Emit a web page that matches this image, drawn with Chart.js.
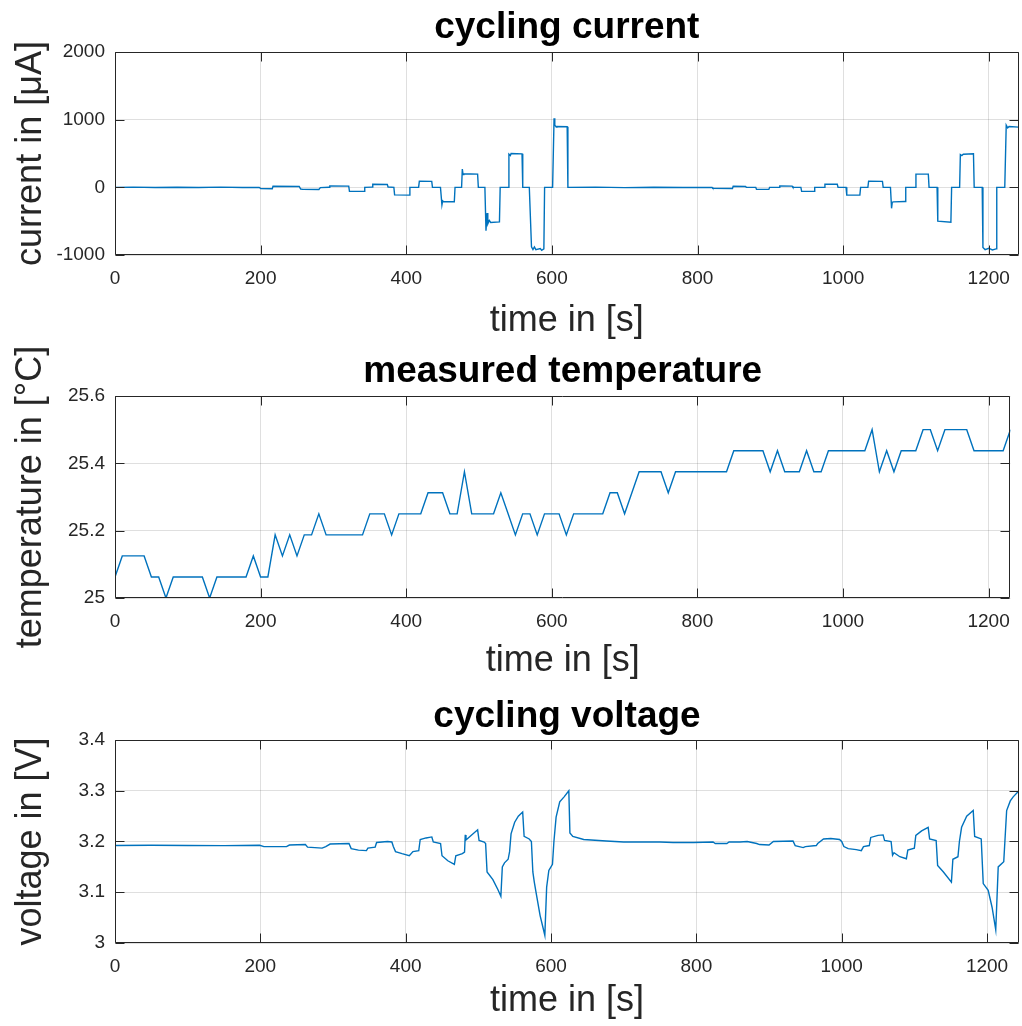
<!DOCTYPE html>
<html><head><meta charset="utf-8">
<script src="https://cdn.jsdelivr.net/npm/chart.js@4/dist/chart.umd.min.js"></script>
<style>
html,body{margin:0;padding:0;background:#fff;}
body{width:1022px;height:1026px;position:relative;overflow:hidden;}
canvas{position:absolute;left:0;display:block;}
</style></head><body>
<canvas id="c1" width="1022" height="345" style="top:0px"></canvas>
<canvas id="c2" width="1022" height="340" style="top:345px"></canvas>
<canvas id="c3" width="1022" height="341" style="top:685px"></canvas>
<script>
// ---------- data ----------
const timeTicks = [0, 200, 400, 600, 800, 1000, 1200];
const currentTicks = [-1000, 0, 1000, 2000];
const tempTicks = [25, 25.2, 25.4, 25.6];
const voltTicks = [3, 3.1, 3.2, 3.3, 3.4];

const currentTime = [
  0, 25, 55, 85, 115, 145, 175, 198,
  200, 216,
  217, 253,
  255, 258, 280, 282,
  294, 295, 321,
  322, 342, 343,
  353, 354, 374, 375,
  383, 384, 404, 405,
  417, 418, 435, 436,
  447, 449, 450, 451, 466, 467,
  476, 477, 478, 479, 498, 499,
  508, 509.5, 511, 512, 514, 516, 528, 529,
  540, 541, 543, 544, 559, 560,
  569, 572, 574, 576, 578, 584, 586, 589, 590,
  601, 603, 604, 606, 607, 621, 622,
  660, 700, 740, 780, 820,
  821, 848, 849, 866, 867,
  880, 881, 898, 899,
  912, 913, 930, 931,
  942, 943, 960, 961,
  974, 975, 992, 993,
  1004, 1005, 1023, 1024,
  1034, 1035, 1054, 1055,
  1065, 1066.5, 1067.5, 1069, 1085, 1086,
  1099, 1100, 1117, 1118,
  1129, 1130, 1148, 1149,
  1160, 1161, 1163, 1165, 1179, 1180,
  1191, 1192, 1195, 1200, 1205, 1210, 1211,
  1222, 1224, 1226, 1228, 1241
];
const currentValue = [
  0, 3, -3, 2, -2, 3, -2, 0,
  -18, -20,
  15, 12,
  -25, -30, -32, -5,
  2, 22, 18,
  -58, -60, 0,
  3, 45, 42, 5,
  0, -112, -115, 0,
  2, 92, 88, 0,
  0, -260, -200, -210, -212, 0,
  0, 270, 190, 200, 195, 0,
  0, -640, -380, -540, -490, -520, -510, 0,
  0, 490, 470, 500, 495, 0,
  0, -880, -920, -880, -920, -905, -930, -910, 0,
  0, 1020, 920, 890, 900, 895, 0,
  3, -4, 2, -3, 0,
  -15, -18, 15, 12, 0,
  0, -28, -30, 0,
  0, 20, 18, 0,
  0, -58, -60, 0,
  0, 45, 45, 0,
  0, -115, -115, 0,
  0, 90, 88, 0,
  0, -310, -220, -215, -210, 0,
  0, 195, 195, 0,
  0, -500, -515, 0,
  0, 485, 470, 490, 495, 0,
  0, -890, -920, -900, -925, -910, 0,
  0, 920, 880, 900, 890
];

const tempTime = [
  0, 10, 20, 30, 40, 50, 60, 70, 80, 90,
  100, 110, 120, 130, 140, 150, 160, 170, 180, 190,
  200, 210, 220, 230, 240, 250, 260, 270, 280, 290,
  300, 310, 320, 330, 340, 350, 360, 370, 380, 390,
  400, 410, 420, 430, 440, 450, 460, 470, 480, 490,
  500, 510, 520, 530, 540, 550, 560, 570, 580, 590,
  600, 610, 620, 630, 640, 650, 660, 670, 680, 690,
  700, 710, 720, 730, 740, 750, 760, 770, 780, 790,
  800, 810, 820, 830, 840, 850, 860, 870, 880, 890,
  900, 910, 920, 930, 940, 950, 960, 970, 980, 990,
  1000, 1010, 1020, 1030, 1040, 1050, 1060, 1070, 1080, 1090,
  1100, 1110, 1120, 1130, 1140, 1150, 1160, 1170, 1180, 1190,
  1200, 1210, 1220, 1230
];
const tempValue = [
  25.0625, 25.125, 25.125, 25.125, 25.125, 25.0625, 25.0625, 25, 25.0625, 25.0625,
  25.0625, 25.0625, 25.0625, 25, 25.0625, 25.0625, 25.0625, 25.0625, 25.0625, 25.125,
  25.0625, 25.0625, 25.1875, 25.125, 25.1875, 25.125, 25.1875, 25.1875, 25.25, 25.1875,
  25.1875, 25.1875, 25.1875, 25.1875, 25.1875, 25.25, 25.25, 25.25, 25.1875, 25.25,
  25.25, 25.25, 25.25, 25.3125, 25.3125, 25.3125, 25.25, 25.25, 25.375, 25.25,
  25.25, 25.25, 25.25, 25.3125, 25.25, 25.1875, 25.25, 25.25, 25.1875, 25.25,
  25.25, 25.25, 25.1875, 25.25, 25.25, 25.25, 25.25, 25.25, 25.3125, 25.3125,
  25.25, 25.3125, 25.375, 25.375, 25.375, 25.375, 25.3125, 25.375, 25.375, 25.375,
  25.375, 25.375, 25.375, 25.375, 25.375, 25.4375, 25.4375, 25.4375, 25.4375, 25.4375,
  25.375, 25.4375, 25.375, 25.375, 25.375, 25.4375, 25.375, 25.375, 25.4375, 25.4375,
  25.4375, 25.4375, 25.4375, 25.4375, 25.5, 25.375, 25.4375, 25.375, 25.4375, 25.4375,
  25.4375, 25.5, 25.5, 25.4375, 25.5, 25.5, 25.5, 25.5, 25.4375, 25.4375,
  25.4375, 25.4375, 25.4375, 25.5
];

const voltTime = [
  0, 50, 100, 150, 199,
  205, 236, 240, 262, 265, 285, 290,
  296, 322, 325, 335, 346, 348, 358, 360, 375, 381,
  383, 386, 395, 405, 410, 418,
  420, 428, 436, 438, 448,
  450, 458, 467, 469, 478, 481,
  482, 483, 490, 499, 501, 508, 510,
  512, 520, 527, 531, 533, 536, 541, 543,
  545, 550, 555, 561, 563, 570, 573,
  575, 577, 580, 585, 589, 591.5, 594, 597, 602,
  604, 607, 612, 618, 624.5, 626, 630, 645, 676,
  700, 750, 768, 796, 823, 826, 842, 845, 860, 870, 883, 887, 900,
  906, 933, 936, 947, 950, 965, 967, 975, 985, 997,
  1000, 1003, 1009, 1020, 1027, 1030, 1038,
  1040, 1050, 1057, 1059, 1068,
  1070, 1072, 1080, 1089, 1091, 1100,
  1102, 1110, 1119, 1121, 1130,
  1132, 1140, 1151, 1153, 1160, 1162,
  1165, 1172, 1181, 1183, 1192,
  1194.8, 1201.6, 1207, 1212, 1215.4, 1223,
  1227, 1232, 1236, 1244
];
const voltValue = [
  3.192, 3.1925, 3.192, 3.1918, 3.1925,
  3.190, 3.190, 3.193, 3.194, 3.189, 3.187, 3.190,
  3.195, 3.196, 3.186, 3.183, 3.182, 3.187, 3.189, 3.198, 3.200, 3.199,
  3.190, 3.180, 3.176, 3.172, 3.180, 3.182,
  3.204, 3.207, 3.209, 3.199, 3.196,
  3.172, 3.162, 3.155, 3.172, 3.176, 3.179,
  3.213, 3.203, 3.212, 3.223, 3.202, 3.199, 3.196,
  3.140, 3.125, 3.105, 3.092, 3.150, 3.158, 3.165, 3.180,
  3.215, 3.238, 3.250, 3.258, 3.210, 3.205, 3.200,
  3.140, 3.120, 3.095, 3.054, 3.030, 3.015, 3.110, 3.143, 3.155,
  3.200, 3.248, 3.278, 3.288, 3.300, 3.217, 3.210, 3.204, 3.201,
  3.199, 3.199, 3.198, 3.198, 3.199, 3.196, 3.196, 3.199, 3.199, 3.200, 3.196, 3.194, 3.193,
  3.200, 3.201, 3.192, 3.188, 3.190, 3.192, 3.196, 3.205, 3.206, 3.204,
  3.200, 3.190, 3.186, 3.184, 3.182, 3.190, 3.192,
  3.208, 3.212, 3.213, 3.202, 3.200,
  3.173, 3.178, 3.170, 3.166, 3.183, 3.187,
  3.212, 3.221, 3.228, 3.205, 3.202,
  3.153, 3.140, 3.120, 3.165, 3.170, 3.200,
  3.228, 3.250, 3.261, 3.210, 3.205,
  3.117, 3.104, 3.070, 3.026, 3.150, 3.160,
  3.261, 3.280, 3.288, 3.300
];

// ---------- styling ----------
const FONT = "'Liberation Sans', Arial, Helvetica, sans-serif";
const AX = '#262626';
const LINE = '#0072BD';

const boxPlugin = {
  id: 'matlabBox',
  afterDatasetsDraw(chart) {
    const {ctx, chartArea: a, scales: {x, y}} = chart;
    const L = 9;
    ctx.save();
    ctx.strokeStyle = AX;
    ctx.lineWidth = 1;
    const l = Math.round(a.left) + 0.5, r = Math.round(a.right) - 0.5;
    const t = Math.round(a.top) + 0.5, b = Math.round(a.bottom) - 0.5;
    ctx.beginPath();
    ctx.rect(l, t, r - l, b - t);
    x.ticks.forEach(tk => {
      const px = Math.round(x.getPixelForValue(tk.value)) + 0.5;
      ctx.moveTo(px, b); ctx.lineTo(px, b - L);
      ctx.moveTo(px, t); ctx.lineTo(px, t + L);
    });
    y.ticks.forEach(tk => {
      const py = Math.round(y.getPixelForValue(tk.value)) + 0.5;
      ctx.moveTo(l, py); ctx.lineTo(l + L, py);
      ctx.moveTo(r, py); ctx.lineTo(r - L, py);
    });
    ctx.stroke();
    ctx.restore();
  }
};

function makeChart(id, o) {
  const pts = o.xs.map((xv, i) => ({x: xv, y: o.ys[i]}));
  return new Chart(document.getElementById(id), {
    type: 'line',
    data: {datasets: [{data: pts, borderColor: LINE, borderWidth: 1.4, pointRadius: 0, tension: 0, fill: false}]},
    plugins: [boxPlugin],
    options: {
      responsive: false, animation: false, devicePixelRatio: 1,
      layout: {padding: {left: 0, right: 3, top: 0, bottom: 0}},
      plugins: {
        legend: {display: false}, tooltip: {enabled: false},
        title: {display: true, fullSize: false, text: o.title, color: '#000',
          font: {family: FONT, size: 37, weight: 'bold'},
          padding: {top: o.titleTop, bottom: o.titleBottom}}
      },
      scales: {
        x: {
          type: 'linear', min: 0, max: o.xmax,
          afterBuildTicks: s => { s.ticks = timeTicks.map(v => ({value: v})); },
          afterFit: s => { s.height = o.xh; },
          grid: {color: 'rgba(38,38,38,0.15)', drawTicks: false},
          border: {display: false},
          ticks: {color: AX, font: {family: FONT, size: 19}, padding: 12, maxRotation: 0, autoSkip: false,
            callback: v => String(v)},
          title: {display: true, text: 'time in [s]', color: AX, font: {family: FONT, size: 36},
            padding: {top: 0, bottom: o.xtitlePad}}
        },
        y: {
          type: 'linear', min: o.ymin, max: o.ymax,
          afterBuildTicks: s => { s.ticks = o.yticks.map(v => ({value: v})); },
          afterFit: s => { s.width = 115; },
          grid: {color: 'rgba(38,38,38,0.15)', drawTicks: false},
          border: {display: false},
          ticks: {color: AX, font: {family: FONT, size: 19}, padding: 10, autoSkip: false,
            callback: v => String(v)},
          title: {display: true, text: o.ytitle, color: AX, font: {family: FONT, size: 36},
            padding: {top: 9, bottom: 0}}
        }
      }
    }
  });
}

makeChart('c1', {title: 'cycling current', xs: currentTime, ys: currentValue, xmax: 1241,
  ymin: -1000, ymax: 2000, yticks: currentTicks, ytitle: 'current in [μA]',
  titleTop: 5.6, titleBottom: 2, xh: 90, xtitlePad: 2.8});
makeChart('c2', {title: 'measured temperature', xs: tempTime, ys: tempValue, xmax: 1230,
  ymin: 25, ymax: 25.6, yticks: tempTicks, ytitle: 'temperature in [°C]',
  titleTop: 4.6, titleBottom: 2, xh: 87, xtitlePad: 2.4});
makeChart('c3', {title: 'cycling voltage', xs: voltTime, ys: voltValue, xmax: 1244,
  ymin: 3, ymax: 3.4, yticks: voltTicks, ytitle: 'voltage in [V]',
  titleTop: 9.6, titleBottom: 1, xh: 83, xtitlePad: 3.4});
</script>
</body></html>
